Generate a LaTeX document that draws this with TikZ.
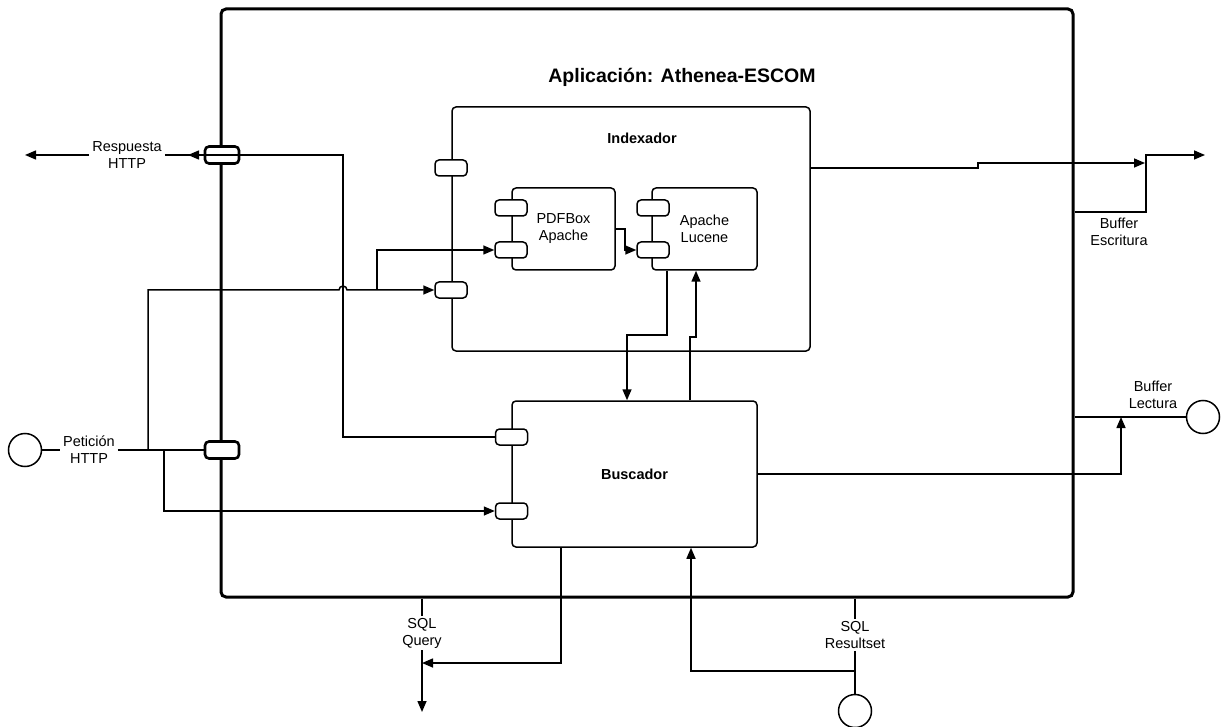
\documentclass[tikz,border=0pt]{standalone}
\usepackage{fontspec}
\setmainfont{Liberation Sans}
\usetikzlibrary{arrows.meta, positioning}

\begin{document}
\begin{tikzpicture}[
    x=1pt, y=-1pt,
    every node/.style={font=\fontsize{14.5}{17}\selectfont},
    box/.style={draw, line width=1.5pt, rounded corners=4pt, align=center},
    appbox/.style={draw, line width=3pt, rounded corners=5pt},
    port/.style={draw, fill=white, line width=1.5pt, rounded corners=4pt,
                 minimum width=32pt, minimum height=16pt, inner sep=0pt},
    eport/.style={port, line width=2.6pt, minimum width=34pt, minimum height=17pt},
    iface/.style={draw, circle, line width=1.5pt, minimum size=33pt, inner sep=0pt},
    lbl/.style={align=center, inner xsep=3pt, inner ysep=2pt},
    conn/.style={line width=1.5pt},
    arr/.style={conn, -{Triangle[length=11pt, width=9pt]}}
]
    \useasboundingbox (0,0) rectangle (1223,727);

    \node[appbox, minimum width=852pt, minimum height=588pt] (app) at (647,303) {};
    \node[font=\fontsize{19.5}{23}\selectfont\bfseries] (title) at (682,77)
        {Aplicación: Athenea-ESCOM};

    \node[box, minimum width=358pt, minimum height=244pt] (idx) at (631,229) {};
    \node[font=\fontsize{14.5}{17}\selectfont\bfseries] (idxtitle) at (642,138) {Indexador};
    \node[box, minimum width=103pt, minimum height=82pt] (pdf) at (563.5,229) {PDFBox\\Apache};
    \node[box, minimum width=105pt, minimum height=82pt] (luc) at (704.5,229) {Apache\\Lucene};
    \node[box, minimum width=245pt, minimum height=146pt,
          font=\fontsize{14.5}{17}\selectfont\bfseries] (bus) at (634.5,474) {Buscador};

    % puertos
    \node[port] (idxp1) at (451,168) {};
    \node[port] (idxp2) at (451,290) {};
    \node[port] (pdfp1) at (511,208) {};
    \node[port] (pdfp2) at (511,250) {};
    \node[port] (lucp1) at (653,208) {};
    \node[port] (lucp2) at (653,250) {};
    \node[port] (busp1) at (511.5,437) {};
    \node[port] (busp2) at (511.5,511) {};
    \node[eport] (resp) at (222,155) {};
    \node[eport] (pet)  at (222,450) {};

    % etiquetas e interfaces
    \node[lbl] (rlbl) at (127,155) {Respuesta\\HTTP};
    \node[lbl] (plbl) at (89,450)  {Petición\\HTTP};
    \node[lbl] (elbl) at (1119,232) {Buffer\\Escritura};
    \node[lbl] (llbl) at (1153,395) {Buffer\\Lectura};
    \node[lbl] (qlbl) at (422,633) {SQL\\Query};
    \node[lbl] (slbl) at (855,635) {SQL\\Resultset};
    \node[iface] (pcirc) at (25,450) {};
    \node[iface] (lcirc) at (1203,417) {};
    \node[iface] (scirc) at (855,711) {};

    % Respuesta HTTP
    \coordinate (rtip) at (188,155);
    \coordinate (rout) at (25,155);
    \coordinate (rj) at (343,437);
    \draw[conn] (rlbl.east) -- (resp.east);
    \draw[arr] (resp.west) -- (rtip);
    \draw[arr] (rlbl.west) -- (rout);
    \draw[conn] (resp.east) -| (rj) -- (busp1.west);

    % Peticion HTTP
    \coordinate (pj1) at (148,450);
    \coordinate (pj2) at (164,450);
    \coordinate (pj3) at (377,290);
    \coordinate (hop) at (339,290);
    \draw[conn] (pcirc) -- (plbl);
    \draw[conn] (plbl) -- (pet);
    \draw[arr] (pj1) |- (hop) arc[start angle=180, end angle=360, radius=4] -- (idxp2.west);
    \draw[arr] (pj3) |- (pdfp2.west);
    \draw[arr] (pj2) |- (busp2.west);

    % Indexador / Buscador
    \coordinate (pl) at (625,229);
    \draw[arr] (pdf.east) -- (pl) |- (lucp2.west);
    \coordinate (l1) at (667,335);
    \coordinate (l2) at (627,335);
    \draw[arr] (luc.south -| l1) -- (l1) -- (l2) -- (bus.north -| l2);
    \coordinate (b1) at (690,337);
    \coordinate (b2) at (696,337);
    \draw[arr] (bus.north -| b1) -- (b1) -- (b2) -- (luc.south -| b2);

    % Buffer Escritura
    \coordinate (w1) at (978,168);
    \coordinate (w2) at (978,163);
    \coordinate (wtip) at (1145,163);
    \draw[arr] (idx.east |- w1) -- (w1) -- (w2) -- (wtip);
    \coordinate (e1) at (1146,212);
    \coordinate (e2) at (1146,155);
    \coordinate (eout) at (1205,155);
    \draw[arr] (app.east |- e1) -- (e1) -- (e2) -- (eout);

    % Buffer Lectura
    \coordinate (k1) at (1121,474);
    \draw[conn] (app.east |- lcirc) -- (lcirc);
    \draw[arr] (bus.east) -- (k1) -- (k1 |- lcirc);

    % SQL
    \coordinate (qout) at (422,712);
    \coordinate (q1) at (561,663);
    \draw[conn] (app.south -| qlbl) -- (qlbl);
    \draw[arr] (qlbl) -- (qout);
    \draw[arr] (bus.south -| q1) -- (q1) -- (q1 -| qlbl);
    \coordinate (s1) at (691,671);
    \draw[conn] (app.south -| slbl) -- (slbl);
    \draw[conn] (slbl) -- (scirc);
    \draw[arr] (scirc |- s1) -- (s1) -- (bus.south -| s1);
\end{tikzpicture}
\end{document}
